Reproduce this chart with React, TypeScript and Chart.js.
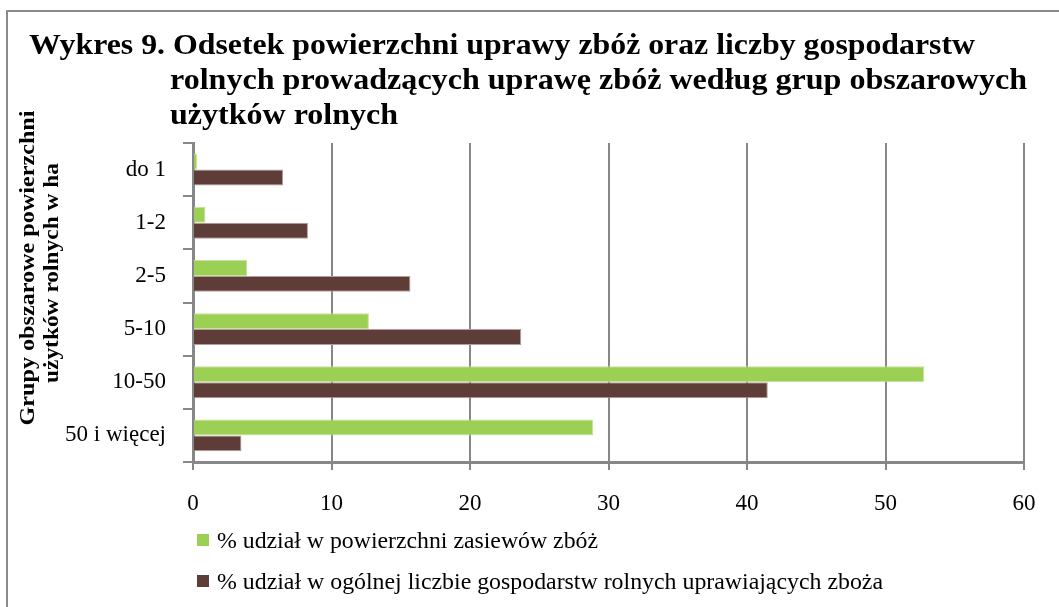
import React, { useEffect, useRef } from "react";
import { Chart, registerables } from "chart.js";

Chart.register(...registerables);

const categories = ["do 1", "1-2", "2-5", "5-10", "10-50", "50 i więcej"];
const areaShare = [0.3, 0.9, 3.9, 12.7, 52.8, 28.9];
const farmShare = [6.5, 8.3, 15.7, 23.7, 41.5, 3.5];
const seriesLabels = [
  "% udział w powierzchni zasiewów zbóż",
  "% udział w ogólnej liczbie gospodarstw rolnych uprawiających zboża",
];
const seriesColors = ["#9BD055", "#5E3C38"];
const titleLines = [
  "Wykres 9. Odsetek powierzchni uprawy zbóż oraz liczby gospodarstw",
  "rolnych prowadzących uprawę zbóż według grup obszarowych",
  "użytków rolnych",
];
const yTitleLines = ["Grupy obszarowe powierzchni", "użytków rolnych w ha"];
const xMin = 0;
const xMax = 60;
const xStep = 10;

const SERIF = '"Liberation Serif", serif';
const GRID = "#878787";

function drawFitted(
  ctx: CanvasRenderingContext2D,
  text: string,
  x: number,
  y: number,
  font: string,
  width: number
) {
  ctx.save();
  ctx.font = font;
  const w = ctx.measureText(text).width;
  const sx = width / w;
  ctx.translate(x, y);
  ctx.scale(sx, 1);
  ctx.textAlign = "left";
  ctx.textBaseline = "alphabetic";
  ctx.fillText(text, 0, 0);
  ctx.restore();
}

function drawRotated(
  ctx: CanvasRenderingContext2D,
  text: string,
  cx: number,
  cy: number,
  font: string,
  length: number
) {
  ctx.save();
  ctx.font = font;
  const w = ctx.measureText(text).width;
  const sx = length / w;
  ctx.translate(cx, cy);
  ctx.rotate(-Math.PI / 2);
  ctx.scale(sx, 1);
  ctx.textAlign = "center";
  ctx.textBaseline = "middle";
  ctx.fillText(text, 0, 0);
  ctx.restore();
}

const decorPlugin = {
  id: "decor",
  beforeDraw(chart: any) {
    const ctx = chart.ctx as CanvasRenderingContext2D;
    ctx.save();
    ctx.fillStyle = "#ffffff";
    ctx.fillRect(0, 0, chart.width, chart.height);
    ctx.strokeStyle = "#8a8a8a";
    ctx.lineWidth = 2;
    ctx.beginPath();
    ctx.moveTo(7, chart.height);
    ctx.lineTo(7, 11);
    ctx.lineTo(chart.width, 11);
    ctx.stroke();
    ctx.restore();
  },
  afterDraw(chart: any) {
    const ctx = chart.ctx as CanvasRenderingContext2D;
    ctx.save();
    ctx.fillStyle = "#000000";
    const tFont = `bold 29px ${SERIF}`;
    drawFitted(ctx, titleLines[0], 29, 54, tFont, 946);
    drawFitted(ctx, titleLines[1], 170, 89, tFont, 857);
    drawFitted(ctx, titleLines[2], 170, 124, tFont, 228);
    const yFont = `bold 21px ${SERIF}`;
    drawRotated(ctx, yTitleLines[0], 29, 268, yFont, 315);
    drawRotated(ctx, yTitleLines[1], 53, 273, yFont, 220);
    const ds = chart.data.datasets;
    const lFont = `24px ${SERIF}`;
    const rows = [540, 581];
    const widths = [381, 666];
    ds.forEach((d: any, i: number) => {
      ctx.fillStyle = d.backgroundColor;
      ctx.fillRect(197, rows[i] - 6, 12, 12);
      ctx.fillStyle = "#000000";
      drawFitted(ctx, d.label, 217, rows[i] + 8, lFont, widths[i]);
    });
    ctx.restore();
  },
};

export default function App() {
  const ref = useRef<HTMLCanvasElement | null>(null);
  useEffect(() => {
    document.body.style.margin = "0";
    let chart: any = null;
    let cancelled = false;
    const build = () => {
      if (cancelled || !ref.current) return;
      chart = new Chart(ref.current, {
        type: "bar",
        data: {
          labels: categories,
          datasets: [
            {
              label: seriesLabels[0],
              data: areaShare,
              backgroundColor: seriesColors[0],
              borderColor: "#c4e49c",
              borderWidth: 1,
              categoryPercentage: 0.6,
              barPercentage: 1,
            },
            {
              label: seriesLabels[1],
              data: farmShare,
              backgroundColor: seriesColors[1],
              borderColor: "#b89c98",
              borderWidth: 1,
              categoryPercentage: 0.6,
              barPercentage: 1,
            },
          ],
        },
        options: {
          indexAxis: "y",
          responsive: false,
          animation: false,
          devicePixelRatio: 1,
          layout: { padding: { top: 143, right: 35, left: 0, bottom: 0 } },
          plugins: {
            legend: { display: false },
            title: { display: false },
            tooltip: { enabled: false },
          },
          scales: {
            x: {
              type: "linear",
              min: xMin,
              max: xMax,
              ticks: {
                stepSize: xStep,
                color: "#000",
                font: { family: SERIF, size: 23 },
                padding: 20,
              },
              grid: {
                color: GRID,
                lineWidth: 2,
                tickLength: 8,
                tickColor: GRID,
                tickWidth: 2,
              },
              border: { color: GRID, width: 3 },
              afterFit: (s: any) => {
                s.height = 145;
              },
            },
            y: {
              type: "category",
              ticks: {
                color: "#000",
                font: { family: SERIF, size: 23 },
                padding: 17,
              },
              grid: {
                offset: true,
                drawOnChartArea: false,
                tickLength: 10,
                tickColor: GRID,
                tickWidth: 2,
                lineWidth: 2,
                color: GRID,
              },
              border: { color: GRID, width: 3 },
              afterFit: (s: any) => {
                s.width = 193;
              },
            },
          },
        },
        plugins: [decorPlugin],
      } as any);
    };
    const fontsApi: any = (document as any).fonts;
    if (fontsApi && fontsApi.load) {
      Promise.all([
        fontsApi.load(`22px "Liberation Serif"`),
        fontsApi.load(`bold 22px "Liberation Serif"`),
      ])
        .catch(() => null)
        .then(build);
    } else {
      build();
    }
    return () => {
      cancelled = true;
      if (chart) chart.destroy();
    };
  }, []);
  return (
    <div style={{ width: 1059, height: 607 }}>
      <canvas ref={ref} width={1059} height={607} style={{ display: "block" }} />
    </div>
  );
}
